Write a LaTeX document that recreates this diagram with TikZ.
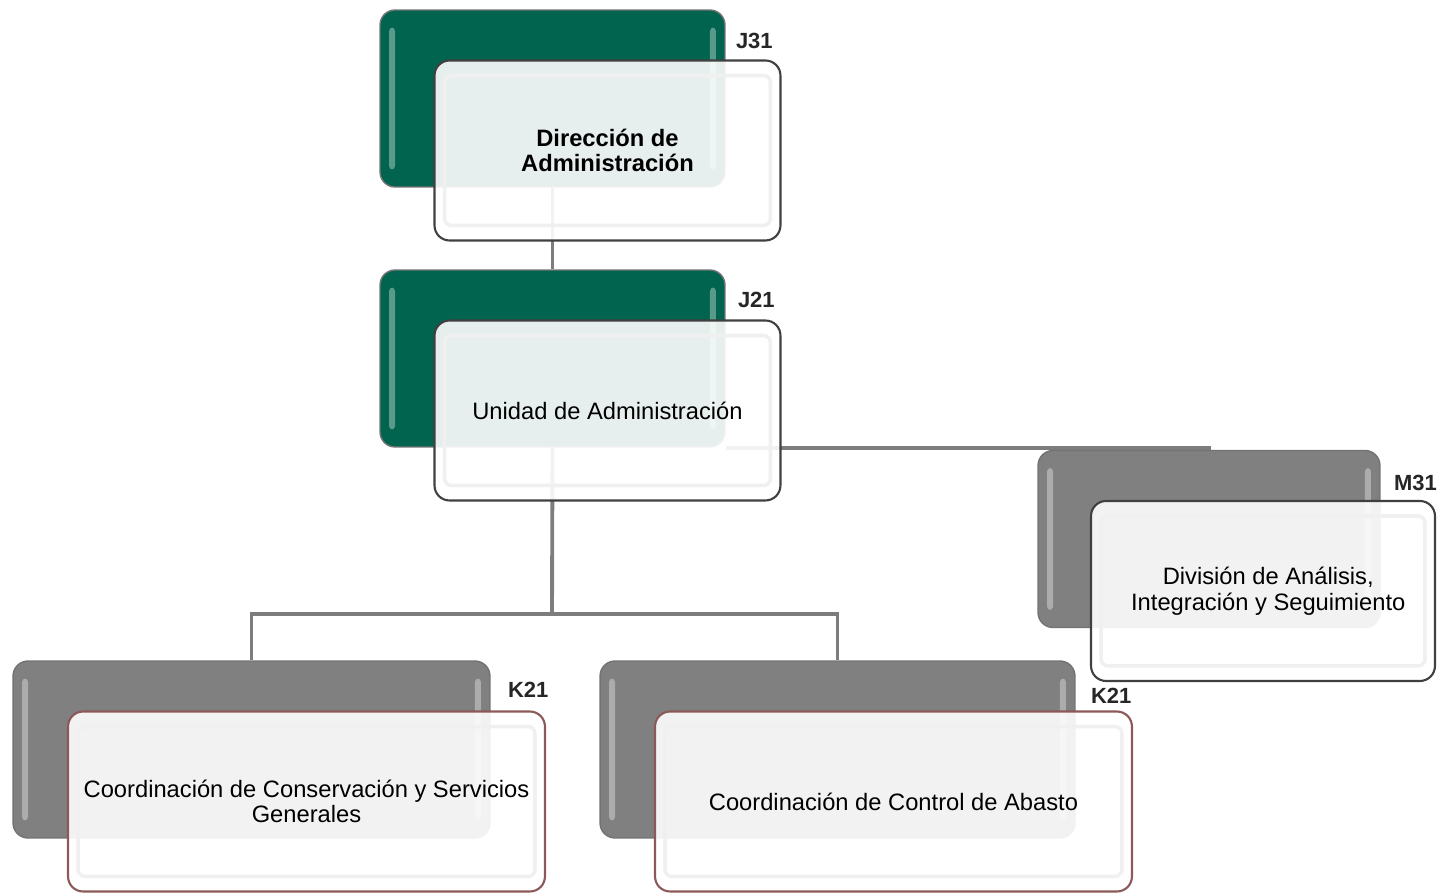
\documentclass[tikz,border=0pt]{standalone}
\usepackage{fontspec}
\setmainfont{Liberation Sans}
\usepackage{tikz}
\usetikzlibrary{positioning,backgrounds,calc}
\definecolor{orgGreen}{RGB}{0,100,78}
\definecolor{orgGray}{RGB}{128,128,128}
\definecolor{lineGray}{RGB}{125,125,125}
\definecolor{rimRed}{RGB}{140,88,88}
\tikzset{
  backg/.style={draw=black!55,line width=0.8pt,rounded corners=0.3cm,minimum height=3.54cm,
                path picture={
                  \fill[white,opacity=0.35,rounded corners=2pt]
                    ([xshift=0.18cm,yshift=-0.35cm]path picture bounding box.north west) rectangle
                    ([xshift=0.3cm,yshift=0.35cm]path picture bounding box.south west);
                  \fill[white,opacity=0.35,rounded corners=2pt]
                    ([xshift=-0.18cm,yshift=-0.35cm]path picture bounding box.north east) rectangle
                    ([xshift=-0.3cm,yshift=0.35cm]path picture bounding box.south east);}},
  greenbox/.style={backg,fill=orgGreen},
  graybox/.style={backg,fill=orgGray},
  front/.style={draw=black!75,line width=1.2pt,rounded corners=0.3cm,minimum height=3.6cm,
                fill=white,fill opacity=0.9,text opacity=1,align=center,
                font=\fontsize{13.5}{14.5}\selectfont,
                path picture={
                  \draw[black!6,line width=2pt,rounded corners=4pt]
                    ([shift={(0.2cm,-0.3cm)}]path picture bounding box.north west) rectangle
                    ([shift={(-0.2cm,0.3cm)}]path picture bounding box.south east);}},
  frontred/.style={front,draw=rimRed},
  tag/.style={anchor=west,font=\fontsize{12.5}{13}\selectfont\bfseries,text=black!85,inner sep=0pt},
  conn/.style={draw=lineGray,line width=2.2pt},
}

\begin{document}
\begin{tikzpicture}[x=0.02cm,y=-0.02cm]
  \useasboundingbox (0,0) rectangle (1437,895);

  % direccion
  \node[greenbox,minimum width=6.9cm] (j31b) at (552.5,98.5) {};
  \node[front,minimum width=6.92cm,font=\fontsize{13.5}{14.5}\selectfont\bfseries] (j31)
    at ([shift={(1.1cm,-1.04cm)}]j31b.center) {Dirección de\\Administración};
  \node[tag] (j31t) at ([xshift=0.2cm,yshift=-0.64cm]j31b.north east) {J31};

  % unidad
  \node[greenbox,minimum width=6.9cm] (j21b) at (552.5,358.5) {};
  \node[front,minimum width=6.92cm] (j21)
    at ([shift={(1.1cm,-1.04cm)}]j21b.center) {Unidad de Administración};
  \node[tag] (j21t) at ([xshift=0.24cm,yshift=-0.62cm]j21b.north east) {J21};

  % division
  \node[graybox,minimum width=6.84cm] (m31b) at (1209,539) {};
  \node[front,minimum width=6.88cm] (m31)
    at ([shift={(1.08cm,-1.04cm)}]m31b.center) {\hspace*{6pt}División de Análisis,\\\hspace*{6pt}Integración y Seguimiento};
  \node[tag] (m31t) at ([xshift=0.26cm,yshift=-0.66cm]m31b.north east) {M31};

  % coordinaciones
  \node[graybox,minimum width=9.54cm] (k21ab) at (251.5,749.5) {};
  \node[frontred,minimum width=9.54cm] (k21a)
    at ([shift={(1.1cm,-1.04cm)}]k21ab.center) {Coordinación de Conservación y Servicios\\Generales};
  \node[tag] (k21at) at ([xshift=0.34cm,yshift=-0.6cm]k21ab.north east) {K21};

  \node[graybox,minimum width=9.5cm] (k21bb) at (837.5,749.5) {};
  \node[frontred,minimum width=9.54cm] (k21b)
    at ([shift={(1.12cm,-1.04cm)}]k21bb.center) {Coordinación de Control de Abasto};
  \node[tag] (k21bt) at ([xshift=0.3cm,yshift=-0.72cm]k21bb.north east) {K21};

  \coordinate (bus) at (552,614);

  \begin{scope}[on background layer]
    \draw[conn] (j31b.south) -- (j21b.north);
    \draw[conn] (j21b.south east) -| (m31b.north);
    \draw[conn] (j21b.south) -- (bus);
    \draw[conn] (bus) -| (k21ab.north);
    \draw[conn] (bus) -| (k21bb.north);
  \end{scope}
\end{tikzpicture}
\end{document}
